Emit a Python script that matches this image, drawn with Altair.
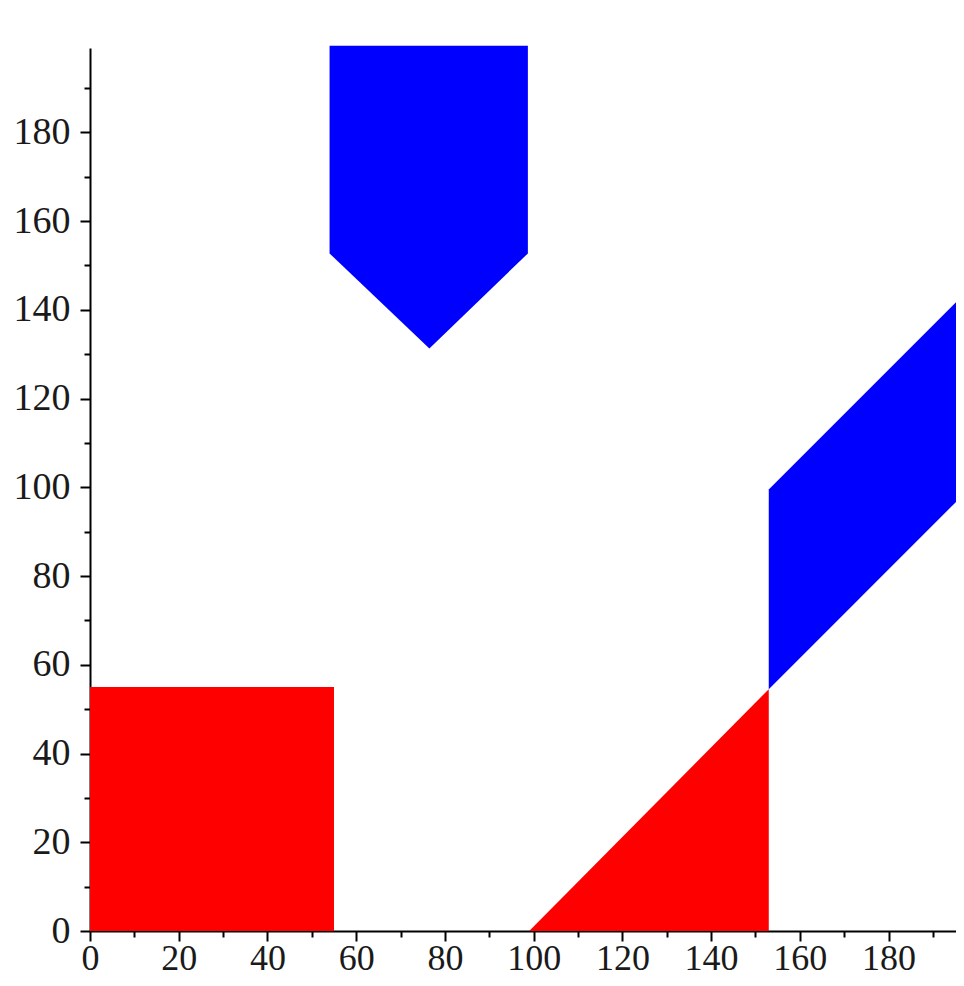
import altair as alt
import pandas as pd

# Polygon outlines, described as vertical bands x -> [y, y2]
square_x = [0, 55]
square_y = [0, 0]
square_y2 = [55, 55]

triangle_x = [99, 153]
triangle_y = [0, 0]
triangle_y2 = [0, 54.5]

pentagon_x = [54, 76.5, 98.7]
pentagon_y = [152.7, 131.3, 152.7]
pentagon_y2 = [199.5, 199.5, 199.5]

band_x = [153, 198]
band_y = [54.5, 99.5]
band_y2 = [99.5, 144.5]

tick_values = list(range(0, 200, 10))

def frame(xs, ys, y2s):
    return pd.DataFrame({"x": xs, "y": ys, "y2": y2s})

tick_size = {"condition": {"test": "datum.value % 20 === 0", "value": 10}, "value": 6}
label_expr = "datum.value % 20 === 0 ? datum.label : ''"

common_axis = dict(
    values=tick_values,
    labelExpr=label_expr,
    labelOverlap=False,
    labelFlush=False,
    tickSize=tick_size,
    tickColor="black",
    tickWidth=2,
    domainColor="black",
    domainWidth=2,
    grid=False,
    title=None,
    labelFont="Liberation Serif",
    labelColor="#1a1a1a",
)

x_scale = alt.Scale(domain=[0, 195.2], nice=False, zero=False)
y_scale = alt.Scale(domain=[0, 199], nice=False, zero=False)


def layer(df, color, clip):
    return alt.Chart(df).mark_area(color=color, opacity=1, clip=clip).encode(
        x=alt.X("x:Q", scale=x_scale,
                axis=alt.Axis(labelPadding=28, labelBaseline="alphabetic",
                              labelFontSize=36, **common_axis)),
        y=alt.Y("y:Q", scale=y_scale,
                axis=alt.Axis(labelPadding=10, labelFontSize=38, **common_axis)),
        y2="y2:Q",
    )

chart = alt.layer(
    layer(frame(square_x, square_y, square_y2), "#ff0000", False),
    layer(frame(triangle_x, triangle_y, triangle_y2), "#ff0000", False),
    layer(frame(pentagon_x, pentagon_y, pentagon_y2), "#0000ff", False),
    layer(frame(band_x, band_y, band_y2), "#0000ff", True),
).properties(
    width=866,
    height=883,
    padding={"left": 82, "top": 40, "right": 0, "bottom": 46},
    autosize="none",
    view=alt.ViewBackground(stroke="transparent", strokeWidth=0),
).configure_view(stroke="transparent", strokeWidth=0).configure(background="white")

chart.save("out.html", embed_options={"renderer": "svg", "actions": False})
